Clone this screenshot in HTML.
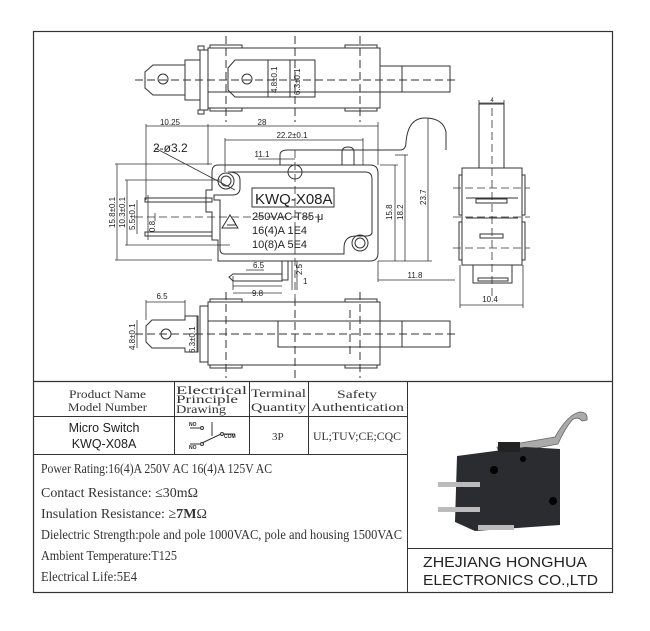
<!DOCTYPE html>
<html><head><meta charset="utf-8"><style>
html,body{margin:0;padding:0;background:#fff;}
svg{display:block}
.t{font-family:"Liberation Sans",sans-serif;fill:#222}
.s{font-family:"Liberation Serif",serif;fill:#333}
</style></head><body>
<svg width="650" height="631" viewBox="0 0 650 631" xmlns="http://www.w3.org/2000/svg">
<g fill="none" stroke="#333" stroke-width="1">
<rect x="33.5" y="31.5" width="579" height="561" stroke-width="1.2"/>
<line x1="33" y1="381.5" x2="613" y2="381.5" stroke-width="1.2"/>
<line x1="407.5" y1="381" x2="407.5" y2="592"/>
<line x1="407" y1="548.5" x2="613" y2="548.5"/>
<line x1="33" y1="416.5" x2="407" y2="416.5"/>
<line x1="33" y1="454.5" x2="407" y2="454.5"/>
<line x1="174.5" y1="381" x2="174.5" y2="454"/>
<line x1="249.5" y1="381" x2="249.5" y2="454"/>
<line x1="308.5" y1="381" x2="308.5" y2="454"/>

<rect x="208" y="48" width="172" height="60"/>
<rect x="210" y="45" width="32" height="3"/><rect x="345" y="45" width="32" height="3"/>
<rect x="210" y="108" width="32" height="3"/><rect x="345" y="108" width="32" height="3"/>
<rect x="200" y="50" width="8" height="60"/>
<rect x="198" y="46" width="6" height="4"/><rect x="198" y="110" width="6" height="4"/>
<rect x="380" y="66" width="70" height="26"/><line x1="402" y1="66" x2="402" y2="92"/>
<path d="M153 65 H185 V95 H153 L145 88 V72 Z"/>
<rect x="185" y="60" width="15" height="40"/>
<circle cx="163" cy="79" r="5"/>
<path d="M235 60 H268 V97 H235 L228 90 V68 Z"/>
<circle cx="247" cy="79" r="5"/>
<rect x="268" y="60" width="22" height="37"/><rect x="290" y="60" width="25" height="37"/>
<line x1="208" y1="92" x2="380" y2="92"/>
<g stroke-dasharray="8 4"><line x1="135" y1="80" x2="455" y2="80"/>
<line x1="226" y1="36" x2="226" y2="122"/><line x1="295" y1="36" x2="295" y2="122"/><line x1="360" y1="36" x2="360" y2="122"/></g>

<path d="M218 165 H370 Q378 165 378 173 V253 Q378 261 370 261 H218 V240 H212 V212 H206 V190 H212 V172 Q212 165 218 165 Z"/>
<path d="M228 172 H365 Q372 172 372 179 V232 Q372 236 366 236 H356 Q344 236 344 248 V254 H225 Q220 254 220 249 V200 H214 V195 H232 Q240 195 240 188 V180 Q240 172 228 172 Z"/>
<circle cx="226" cy="181" r="8"/><circle cx="226" cy="181" r="5"/>
<circle cx="360" cy="243" r="8"/><circle cx="360" cy="243" r="5"/>
<circle cx="295" cy="172" r="7"/>
<rect x="252" y="188" width="82" height="19"/>
<path d="M280 165 V155 Q280 150 288 150 H400 Q406 150 406 142 Q408 118 425 118 Q443 118 446 132 V150"/>
<path d="M342 165 V152 Q342 147 348 147 Q354 147 354 152 V165"/>
<rect x="145" y="198" width="67" height="4"/><rect x="145" y="232" width="67" height="4"/>
<path d="M282 261 V280 H288 V261"/>
<path d="M233 274 H282 V281 H233 L229 277 Z"/>
<path d="M230 215 L238 228 H222 Z"/><path d="M233 219 L236 225 H227"/>
<g stroke-width="0.8">
<line x1="146" y1="126" x2="378" y2="126"/><line x1="146" y1="124" x2="146" y2="200"/><line x1="208" y1="124" x2="208" y2="165"/><line x1="378" y1="122" x2="378" y2="165"/>
<line x1="225" y1="140" x2="363" y2="140"/><line x1="225" y1="138" x2="225" y2="172"/><line x1="363" y1="138" x2="363" y2="165"/>
<line x1="258" y1="159" x2="295" y2="159"/>
<line x1="155" y1="148" x2="235" y2="190"/>
<line x1="117" y1="164" x2="117" y2="260"/><line x1="115" y1="164" x2="212" y2="164"/><line x1="115" y1="260" x2="212" y2="260"/>
<line x1="127" y1="180" x2="127" y2="245"/><line x1="125" y1="180" x2="220" y2="180"/><line x1="125" y1="245" x2="230" y2="245"/>
<line x1="137" y1="200" x2="137" y2="234"/>
<line x1="148" y1="195" x2="148" y2="240"/>
<line x1="395" y1="165" x2="395" y2="261"/><line x1="380" y1="165" x2="398" y2="165"/>
<line x1="405" y1="155" x2="405" y2="261"/><line x1="408" y1="155" x2="395" y2="155"/>
<line x1="428" y1="118" x2="428" y2="261"/><line x1="378" y1="261" x2="432" y2="261"/>
<line x1="378" y1="261" x2="378" y2="282"/><line x1="378" y1="280" x2="455" y2="280"/>
<line x1="246" y1="270" x2="264" y2="270"/><line x1="233" y1="286" x2="282" y2="286"/><line x1="233" y1="276" x2="233" y2="290"/>
<line x1="292" y1="261" x2="292" y2="290"/><line x1="297" y1="261" x2="297" y2="290"/>
</g>
<g stroke-dasharray="8 4" stroke-width="0.8"><line x1="135" y1="217" x2="320" y2="217"/><line x1="295" y1="150" x2="295" y2="300"/><line x1="155" y1="213" x2="155" y2="222"/></g>

<rect x="208" y="302" width="172" height="63"/>
<rect x="210" y="299" width="32" height="3"/><rect x="345" y="299" width="32" height="3"/>
<rect x="210" y="365" width="32" height="3"/><rect x="345" y="365" width="32" height="3"/>
<rect x="200" y="306" width="8" height="56"/>
<line x1="208" y1="321" x2="380" y2="321"/>
<rect x="278" y="321" width="172" height="26"/><line x1="402" y1="321" x2="402" y2="347"/>
<path d="M152 320 H185 V316 H198 V352 H185 V348 H152 L146 342 V326 Z"/>
<circle cx="166" cy="334" r="5"/>
<g stroke-width="0.8"><line x1="146" y1="302" x2="185" y2="302"/><line x1="146" y1="300" x2="146" y2="320"/><line x1="185" y1="300" x2="185" y2="316"/>
<line x1="137" y1="320" x2="137" y2="348"/><line x1="197" y1="316" x2="197" y2="352"/>
<line x1="233" y1="293" x2="282" y2="293"/></g>
<g stroke-dasharray="8 4"><line x1="135" y1="334" x2="455" y2="334"/>
<line x1="226" y1="292" x2="226" y2="378"/><line x1="295" y1="298" x2="295" y2="378"/><line x1="360" y1="292" x2="360" y2="378"/><line x1="350" y1="310" x2="350" y2="358"/></g>

<rect x="479" y="104" width="25" height="64"/>
<rect x="462" y="168" width="60" height="97"/>
<rect x="459" y="175" width="3" height="40"/><rect x="522" y="175" width="3" height="40"/>
<rect x="459" y="222" width="3" height="38"/><rect x="522" y="222" width="3" height="38"/>
<rect x="473" y="265" width="39" height="18"/>
<rect x="476" y="199" width="31" height="4"/><rect x="480" y="234" width="23" height="4"/><rect x="478" y="278" width="30" height="3"/>
<line x1="466" y1="198" x2="518" y2="198"/><line x1="466" y1="218" x2="518" y2="218"/>
<g stroke-width="0.8"><line x1="479" y1="103" x2="504" y2="103"/><line x1="479" y1="100" x2="479" y2="104"/><line x1="504" y1="100" x2="504" y2="104"/>
<line x1="460" y1="305" x2="523" y2="305"/><line x1="460" y1="265" x2="460" y2="308"/><line x1="523" y1="265" x2="523" y2="308"/></g>
<g stroke-dasharray="8 4" stroke-width="0.8"><line x1="492" y1="108" x2="492" y2="300"/><line x1="453" y1="188" x2="530" y2="188"/><line x1="453" y1="217" x2="530" y2="217"/><line x1="453" y1="248" x2="530" y2="248"/></g>

<g stroke-width="1"><line x1="190" y1="428" x2="200" y2="428"/><circle cx="202" cy="428" r="1.5"/>
<line x1="190" y1="444" x2="200" y2="444"/><circle cx="202" cy="444" r="1.5"/>
<line x1="212" y1="422" x2="212" y2="436"/><line x1="202" y1="443" x2="221" y2="434"/><circle cx="222" cy="434" r="1.5"/><line x1="224" y1="434" x2="235" y2="434"/></g>
</g>
<g>
<path d="M497 447 L555 437 Q568 414 580 412 Q588 412 587 420 L582 421 Q578 416 572 420 Q564 430 558 444 L500 455 Z" fill="#aaa" stroke="#666" stroke-width="0.8"/>
<path d="M457 456 L525 447 L560 449 L560 525 L475 531 L455 522 Z" fill="#2b2c2f"/>
<rect x="498" y="442" width="22" height="10" fill="#222"/>
<circle cx="494" cy="470" r="4" fill="#000"/><circle cx="523" cy="459" r="3" fill="#000"/><circle cx="553" cy="501" r="4" fill="#000"/>
<rect x="438" y="482" width="42" height="5" fill="#bbb"/><rect x="438" y="507" width="42" height="5" fill="#bbb"/>
<rect x="478" y="525" width="36" height="5" fill="#bbb"/>
</g>
<g class="t" font-size="8">
<text x="170" y="125" text-anchor="middle">10.25</text>
<text x="262" y="125" text-anchor="middle">28</text>
<text x="292" y="138" text-anchor="middle">22.2±0.1</text>
<text x="262" y="157" text-anchor="middle">11.1</text>
<text x="153" y="152" font-size="12">2-ø3.2</text>
<text x="415" y="278" text-anchor="middle">11.8</text>
<text x="253" y="268">6.5</text>
<text x="252" y="296">9.8</text>
<text x="162" y="299" text-anchor="middle">6.5</text>
<text x="490" y="302" text-anchor="middle">10.4</text>
<text x="492" y="102" text-anchor="middle" font-size="6">4</text>
<text x="303" y="284">1</text>
<text transform="translate(302 275) rotate(-90)">2.5</text>
<text transform="translate(115 228) rotate(-90)">15.8±0.1</text>
<text transform="translate(125 228) rotate(-90)">10.3±0.1</text>
<text transform="translate(135 230) rotate(-90)">5.5±0.1</text>
<text transform="translate(155 232) rotate(-90)">0.8</text>
<text transform="translate(392 220) rotate(-90)">15.8</text>
<text transform="translate(403 220) rotate(-90)">18.2</text>
<text transform="translate(426 205) rotate(-90)">23.7</text>
<text transform="translate(277 93) rotate(-90)">4.8±0.1</text>
<text transform="translate(300 95) rotate(-90)">6.3±0.1</text>
<text transform="translate(135 350) rotate(-90)">4.8±0.1</text>
<text transform="translate(195 353) rotate(-90)">6.3±0.1</text>
</g>
<g class="t">
<text x="255" y="204" font-size="15">KWQ-X08A</text>
<text x="252" y="220" font-size="11">250VAC  T85  μ</text>
<text x="252" y="234" font-size="11">16(4)A   1E4</text>
<text x="252" y="248" font-size="11">10(8)A   5E4</text>
</g>
<g class="s" font-size="12">
<text x="69" y="398" textLength="77" lengthAdjust="spacingAndGlyphs">Product Name</text>
<text x="68" y="411" textLength="79" lengthAdjust="spacingAndGlyphs">Model Number</text>
<text x="176" y="394" textLength="71" lengthAdjust="spacingAndGlyphs">Electrical</text>
<text x="176" y="403" textLength="62" lengthAdjust="spacingAndGlyphs">Principle</text>
<text x="176" y="413" textLength="50" lengthAdjust="spacingAndGlyphs">Drawing</text>
<text x="251" y="397" textLength="55" lengthAdjust="spacingAndGlyphs">Terminal</text>
<text x="251" y="411" textLength="55" lengthAdjust="spacingAndGlyphs">Quantity</text>
<text x="337" y="398" textLength="40" lengthAdjust="spacingAndGlyphs">Safety</text>
<text x="311" y="411" textLength="93" lengthAdjust="spacingAndGlyphs">Authentication</text>
<text x="272" y="440" font-size="11">3P</text>
<text x="313" y="440" textLength="88" lengthAdjust="spacingAndGlyphs">UL;TUV;CE;CQC</text>
</g>
<g class="t" font-size="12.5" text-anchor="middle"><text x="104" y="432">Micro Switch</text><text x="104" y="448">KWQ-X08A</text></g>
<g class="t" font-size="5" font-weight="bold"><text x="189" y="426">NO</text><text x="189" y="449">NO</text><text x="224" y="438">COM</text></g>
<g class="s" font-size="14">
<text x="41" y="473" textLength="231" lengthAdjust="spacingAndGlyphs">Power Rating:16(4)A 250V AC   16(4)A 125V AC</text>
<text x="41" y="497" textLength="157" lengthAdjust="spacingAndGlyphs">Contact Resistance: ≤30mΩ</text>
<text x="41" y="518" textLength="166" lengthAdjust="spacingAndGlyphs">Insulation Resistance: ≥<tspan font-weight="bold">7M</tspan>Ω</text>
<text x="41" y="539" textLength="361" lengthAdjust="spacingAndGlyphs">Dielectric Strength:pole and pole 1000VAC, pole and housing 1500VAC</text>
<text x="41" y="560" textLength="136" lengthAdjust="spacingAndGlyphs">Ambient Temperature:T125</text>
<text x="41" y="581" textLength="96" lengthAdjust="spacingAndGlyphs">Electrical Life:5E4</text>
</g>
<g class="t" font-size="15"><text x="423" y="567" textLength="164" lengthAdjust="spacingAndGlyphs">ZHEJIANG HONGHUA</text><text x="423" y="585" textLength="175" lengthAdjust="spacingAndGlyphs">ELECTRONICS CO.,LTD</text></g>
</svg>
</body></html>
